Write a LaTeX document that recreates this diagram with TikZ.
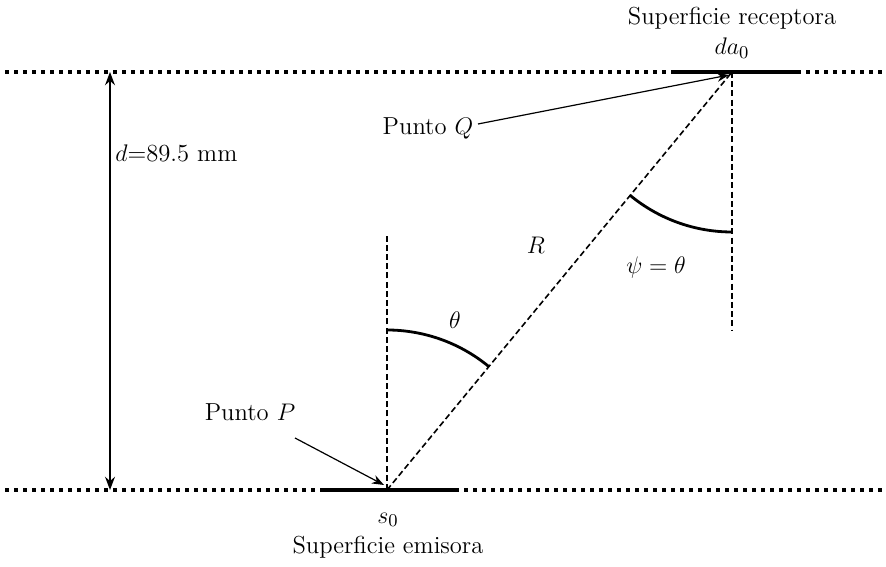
\documentclass[tikz,border=0pt]{standalone}
\usepackage{amsmath}
\usetikzlibrary{positioning, arrows.meta}

\begin{document}
\begin{tikzpicture}[
    x=0.5pt, y=0.5pt,
    every node/.style={font=\fontsize{12.3}{14}\selectfont, inner sep=1pt},
    surface/.style={line width=1.8pt, dash pattern=on 1.8pt off 2.7pt},
    patch/.style={line width=2pt},
    ray/.style={line width=0.8pt, dash pattern=on 3pt off 1.6pt},
    anglearc/.style={line width=1.4pt},
    pointer/.style={-{Stealth[length=6pt]}, line width=0.6pt},
    >=Stealth
]
\useasboundingbox (0,0) rectangle (886,566);
% planes
\coordinate (topL) at (5,494);
\coordinate (topR) at (886,494);
\coordinate (botL) at (5,76);
\coordinate (botR) at (886,76);
\draw[surface] (topL) -- (topR);
\draw[surface] (botL) -- (botR);
% surface elements
\coordinate (Q) at (732,494);
\coordinate (P) at (387,76);
\coordinate (daL) at (672,494);
\coordinate (daR) at (800,494);
\coordinate (sL) at (320,76);
\coordinate (sR) at (455,76);
\draw[patch] (daL) -- (daR);
\draw[patch] (sL) -- (sR);
% normals and ray
\coordinate (nP) at (387,333);
\coordinate (nQ) at (732,236);
\draw[ray] (P) -- (Q);
\draw[ray] (P) -- (nP);
\draw[ray] (Q) -- (nQ);
% angles
\draw[anglearc] (P) ++(90:160) arc[start angle=90, end angle=50.5, radius=160];
\draw[anglearc] (Q) ++(230.5:160) arc[start angle=230.5, end angle=270, radius=160];
\node (theta) at (455,246) {$\theta$};
\node (psi) at (656,298) {$\psi=\theta$};
\node (R) at (536,321) {$R$};
% distance
\coordinate (dtop) at (110,494);
\coordinate (dbot) at (110,76);
\draw[<->, line width=0.8pt] (dbot) -- (dtop);
\node[anchor=west] (dist) at (113,413) {$d$=89.5 mm};
% labels
\node (rec) at (732,548) {Superficie receptora};
\node (da) [below=2pt of rec] {$da_0$};
\node (s0) at (388,46) {$s_0$};
\node (emi) [below=2pt of s0] {Superficie emisora};
\node (pQ) at (428,438) {Punto $Q$};
\node (pP) at (250,154) {Punto $P$};
\coordinate (qtail) at (478,442);
\coordinate (qtip) at (729,491);
\coordinate (ptail) at (295,128);
\coordinate (ptip) at (384,81);
\draw[pointer] (qtail) -- (qtip);
\draw[pointer] (ptail) -- (ptip);
\end{tikzpicture}
\end{document}
